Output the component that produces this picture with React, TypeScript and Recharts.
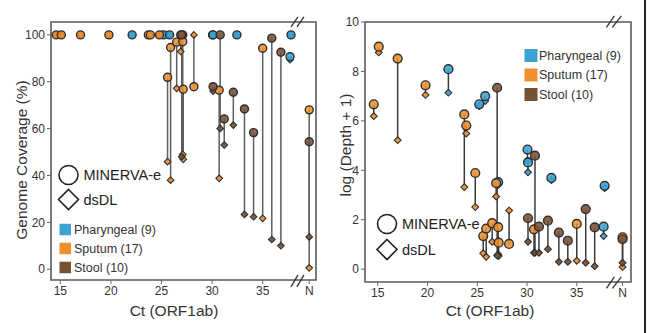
import React from 'react';
import {
  ComposedChart,
  Scatter,
  XAxis,
  YAxis,
  ErrorBar,
  ReferenceArea,
  ReferenceLine
} from 'recharts';

const FONT = '"Liberation Sans", Arial, sans-serif';
const N_POS = 39.6; // where the "N" (not detected) column sits on the Ct axis

// one entry per sample: P = pharyngeal, S = sputum, T = stool
const ctValues: (number | string)[] = [
  22.1, 25.2, 25.8, 27.1, 30.05, 30.1, 32.45, 37.7, 37.8,
  14.6, 15.1, 17.0, 19.8, 23.7, 23.9, 24.8, 25.6, 25.9, 26.5, 26.9, 27.1, 27.15, 28.2, 30.7, 35.0, 'N',
  27.0, 30.1, 30.8, 31.2, 32.1, 33.2, 34.1, 35.9, 36.8, 'N'
];
const sampleType: string[] = [
  'P', 'P', 'P', 'P', 'P', 'P', 'P', 'P', 'P',
  'S', 'S', 'S', 'S', 'S', 'S', 'S', 'S', 'S', 'S', 'S', 'S', 'S', 'S', 'S', 'S', 'S',
  'T', 'T', 'T', 'T', 'T', 'T', 'T', 'T', 'T', 'T'
];
const coverageMinerva: number[] = [
  100, 100, 100, 100, 100, 100, 100, 90.7, 100,
  100, 100, 100, 100, 100, 100, 100, 81.9, 94.6, 96.9, 100, 97.1, 76.8, 77.9, 76.4, 94.3, 68.0,
  100, 77.9, 100, 64.1, 75.5, 68.4, 58.3, 98.6, 92.6, 54.4
];
const coverageDsdl: number[] = [
  100, 100, 100, 100, 100, 100, 100, 89.4, 100,
  100, 100, 100, 100, 100, 100, 100, 45.9, 38.0, 77.2, 92.9, 49.0, 46.9, 100, 38.8, 21.7, 0.6,
  48.0, 76.0, 60.1, 53.0, 61.5, 23.4, 22.4, 12.7, 10.0, 13.8
];
const depthMinerva: number[] = [
  8.09, 6.67, 7.0, 3.52, 4.84, 4.32, 3.69, 1.72, 3.37,
  6.67, 9.0, 8.52, 7.44, 6.26, 5.81, 3.89, 1.34, 1.64, 1.86, 3.48, 1.70, 1.07, 1.02, 1.61, 1.83, 1.29,
  7.34, 2.06, 4.59, 1.72, 1.96, 1.48, 1.15, 2.43, 1.69, 1.21
];
const depthDsdl: number[] = [
  7.14, 6.6, 6.8, 3.4, 4.4, 3.92, 3.6, 1.34, 3.28,
  6.19, 8.77, 5.22, 7.05, 3.32, 5.49, 2.51, 0.64, 0.50, 1.11, 2.94, 0.60, 0.53, 2.37, 0.66, 0.34, 0.09,
  0.55, 1.11, 0.66, 0.66, 0.81, 0.30, 0.30, 0.26, 0.12, 0.26
];

const xTicks = [15, 20, 25, 30, 35, N_POS];
const coverageTicks = [0, 20, 40, 60, 80, 100];
const depthTicks = [0, 2, 4, 6, 8, 10];

const COLORS: Record<string, string> = { P: '#3aa3d6', S: '#ef8f2d', T: '#785033' };
const legendItems: [string, string][] = [
  ['Pharyngeal (9)', 'P'],
  ['Sputum (17)', 'S'],
  ['Stool (10)', 'T']
];

const toX = (c: number | string) => (c === 'N' ? N_POS : (c as number));

function buildSeries(m: number[], d: number[]) {
  const diamonds = ctValues.map((c, i) => ({
    x: toX(c),
    y: d[i],
    err: m[i] >= d[i] ? [0, m[i] - d[i]] : [d[i] - m[i], 0],
    g: sampleType[i]
  }));
  const circles = ctValues.map((c, i) => ({ x: toX(c), y: m[i], g: sampleType[i] }));
  return { diamonds, circles };
}

const coverage = buildSeries(coverageMinerva, coverageDsdl);
const depth = buildSeries(depthMinerva, depthDsdl);

const makeCircle = (r: number) => (p: any) => (
  <circle cx={p.cx} cy={p.cy} r={r} fill={COLORS[p.payload.g]} fillOpacity={0.88} stroke="#2f2f2f" strokeWidth={1.4} />
);
const makeDiamond = (h: number) => (p: any) => (
  <path
    d={`M${p.cx},${p.cy - h}L${p.cx + h},${p.cy}L${p.cx},${p.cy + h}L${p.cx - h},${p.cy}Z`}
    fill={COLORS[p.payload.g]}
    fillOpacity={0.9}
    stroke="#2f2f2f"
    strokeWidth={1.1}
  />
);

const tickStyle = { fontSize: 12, fill: '#333', fontFamily: FONT };
const fmtX = (v: number) => (v === N_POS ? 'N' : String(v));

interface PanelProps {
  width: number;
  margin: { top: number; right: number; bottom: number; left: number };
  yWidth: number;
  xDomain: [number, number];
  yDomain: [number, number];
  yTicks: number[];
  series: { diamonds: any[]; circles: any[] };
  lineColor: string;
  r: number;
  h: number;
  breaks: [number, number, number, number][];
}

const Panel: React.FC<PanelProps> = ({ width, margin, yWidth, xDomain, yDomain, yTicks, series, lineColor, r, h, breaks }) => (
  <ComposedChart width={width} height={333} margin={margin}>
    <XAxis
      type="number"
      dataKey="x"
      domain={xDomain}
      ticks={xTicks}
      tickFormatter={fmtX}
      allowDataOverflow
      axisLine={false}
      tickLine={{ stroke: '#666' }}
      tickSize={4}
      tick={tickStyle}
      height={30}
      interval={0}
    />
    <YAxis
      type="number"
      dataKey="y"
      domain={yDomain}
      ticks={yTicks}
      allowDataOverflow
      axisLine={false}
      tickLine={{ stroke: '#666' }}
      tickSize={4}
      tick={tickStyle}
      width={yWidth}
      interval={0}
    />
    <ReferenceArea
      x1={xDomain[0]}
      x2={xDomain[1]}
      y1={yDomain[0]}
      y2={yDomain[1]}
      fill="none"
      stroke="#5a5a5a"
      strokeWidth={1.6}
      ifOverflow="visible"
    />
    {breaks.map((b, i) => (
      <ReferenceLine
        key={`brk-${i}`}
        segment={[{ x: b[0], y: b[1] }, { x: b[2], y: b[3] }]}
        stroke="#333"
        strokeWidth={1.3}
        ifOverflow="visible"
      />
    ))}
    <Scatter data={series.diamonds} shape={makeDiamond(h)} isAnimationActive={false}>
      <ErrorBar dataKey="err" direction="y" width={0} stroke={lineColor} strokeWidth={1.5} />
    </Scatter>
    <Scatter data={series.circles} shape={makeCircle(r)} isAnimationActive={false} />
  </ComposedChart>
);

const Legend = ({ cx, cy1, cy2, sx, sy, size, textX, step }: any) => (
  <g fontFamily={FONT}>
    <circle cx={cx} cy={cy1} r={9.5} fill="none" stroke="#222" strokeWidth={1.6} />
    <text x={cx + 15} y={cy1} dominantBaseline="central" fontSize={14.5} fill="#222">MINERVA-e</text>
    <path d={`M${cx},${cy2 - 10}L${cx + 10},${cy2}L${cx},${cy2 + 10}L${cx - 10},${cy2}Z`} fill="none" stroke="#222" strokeWidth={1.6} />
    <text x={cx + 15} y={cy2} dominantBaseline="central" fontSize={14.5} fill="#222">dsDL</text>
    {legendItems.map(([label, g], i) => (
      <g key={g}>
        <rect x={sx} y={sy + i * step - size / 2} width={size} height={size} fill={COLORS[g]} />
        <text x={textX} y={sy + i * step} dominantBaseline="central" fontSize={12.5} fill="#333">{label}</text>
      </g>
    ))}
  </g>
);

export default function App() {
  return (
    <div style={{ position: 'relative', width: 648, height: 333, background: '#fff', overflow: 'hidden' }}>
      <style>{'body{margin:0}'}</style>
      <div style={{ position: 'absolute', left: 0, top: 0 }}>
        <Panel
          width={320}
          margin={{ top: 22, right: 4, bottom: 23, left: 0 }}
          yWidth={51}
          xDomain={[14.08, 40.27]}
          yDomain={[-4.6, 105.5]}
          yTicks={coverageTicks}
          series={coverage}
          lineColor="#5e5e5e"
          r={4}
          h={3.3}
          breaks={[
            [37.8, 103.4, 38.49, 107.7],
            [38.39, 103.4, 39.08, 107.7],
            [37.8, -7.55, 38.49, -2.43],
            [38.39, -7.55, 39.08, -2.43]
          ]}
        />
      </div>
      <div style={{ position: 'absolute', left: 320, top: 0 }}>
        <Panel
          width={328}
          margin={{ top: 22, right: 17, bottom: 21, left: 0 }}
          yWidth={45}
          xDomain={[13.72, 40.45]}
          yDomain={[-0.52, 10.0]}
          yTicks={depthTicks}
          series={depth}
          lineColor="#3a3a3a"
          r={4.4}
          h={3.4}
          breaks={[
            [37.98, 9.78, 38.78, 10.25],
            [38.58, 9.78, 39.48, 10.25],
            [37.98, -0.78, 38.78, -0.31],
            [38.58, -0.78, 39.48, -0.31]
          ]}
        />
      </div>
      <div style={{ position: 'absolute', left: 644, top: 0, width: 2, height: 333, background: '#222' }} />
      <svg width={648} height={333} style={{ position: 'absolute', left: 0, top: 0, pointerEvents: 'none' }}>
        <g fontFamily={FONT} fill="#333" fontSize={15.5} textAnchor="middle">
          <text transform="translate(21,160) rotate(-90)" dominantBaseline="central">Genome Coverage (%)</text>
          <text x={174} y={310} dominantBaseline="central">Ct (ORF1ab)</text>
          <text transform="translate(345,145) rotate(-90)" dominantBaseline="central">log (Depth + 1)</text>
          <text x={490} y={310} dominantBaseline="central">Ct (ORF1ab)</text>
        </g>
        <Legend cx={68.5} cy1={175} cy2={199.5} sx={59.5} sy={229.5} size={11.5} textX={74} step={19} />
        <Legend cx={387} cy1={224} cy2={249.5} sx={524.5} sy={55.5} size={13} textX={539} step={19.5} />
      </svg>
    </div>
  );
}
